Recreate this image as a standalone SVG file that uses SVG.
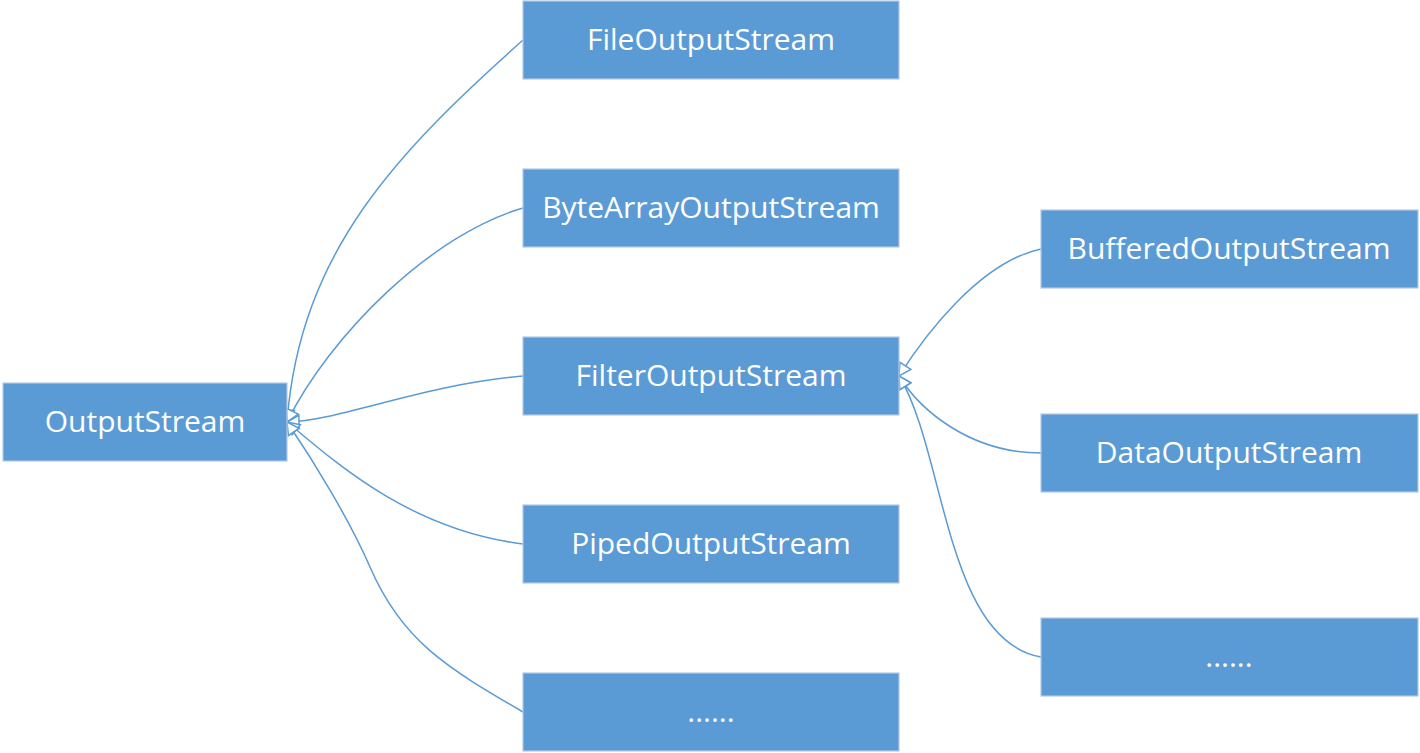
<svg xmlns="http://www.w3.org/2000/svg" width="1420" height="753" viewBox="0 0 1420 753">
<style>
.box{fill:#5B9BD5;stroke:#B4C9E6;stroke-width:1.2}
.lbl{fill:#FFFFFF;font-family:"Open Sans","Noto Sans","Liberation Sans",sans-serif;font-size:30px;text-anchor:middle}
.conn{fill:none;stroke:#5B9BD5;stroke-width:1.5;marker-start:url(#tri)}
</style>
<defs>
<marker id="tri" markerUnits="userSpaceOnUse" markerWidth="16" markerHeight="16" viewBox="-1 -8 15 16" refX="12" refY="0" orient="auto-start-reverse">
<path d="M0,-6.5 L12,0 L0,6.5 Z" fill="#FFFFFF" stroke="#5B9BD5" stroke-width="1.5" stroke-linejoin="miter"/>
</marker>
</defs>
<rect width="1420" height="753" fill="#FFFFFF"/>
<g id="connectors">
<path class="conn" d="M287,422 C300,250 400,150 523,40"/>
<path class="conn" d="M287,422 C330,335 432,234 523,208"/>
<path class="conn" d="M287,422 C340,421 420,385 523,376"/>
<path class="conn" d="M287,422 C335,462 410,530 523,544"/>
<path class="conn" d="M287,422 C315,463 350,521 370,567 C402,641 446,667 523,712"/>
<path class="conn" d="M899,376 C925,335 980,262 1041,249"/>
<path class="conn" d="M899,376 C920,410 970,453 1041,453"/>
<path class="conn" d="M899,376 C945,450 945,640 1041,657"/>
</g>
<g id="OutputStream"><rect class="box" x="3" y="383" width="284" height="78"/><text class="lbl" x="145" y="432">OutputStream</text></g>
<g id="FileOutputStream"><rect class="box" x="523" y="1" width="376" height="78"/><text class="lbl" x="711" y="50">FileOutputStream</text></g>
<g id="ByteArrayOutputStream"><rect class="box" x="523" y="169" width="376" height="78"/><text class="lbl" x="711" y="218">ByteArrayOutputStream</text></g>
<g id="FilterOutputStream"><rect class="box" x="523" y="337" width="376" height="78"/><text class="lbl" x="711" y="386">FilterOutputStream</text></g>
<g id="PipedOutputStream"><rect class="box" x="523" y="505" width="376" height="78"/><text class="lbl" x="711" y="554">PipedOutputStream</text></g>
<g id="MoreLeft"><rect class="box" x="523" y="673" width="376" height="78"/><text class="lbl" x="711" y="722">......</text></g>
<g id="BufferedOutputStream"><rect class="box" x="1041" y="210" width="377" height="78"/><text class="lbl" x="1229" y="259">BufferedOutputStream</text></g>
<g id="DataOutputStream"><rect class="box" x="1041" y="414" width="377" height="78"/><text class="lbl" x="1229" y="463">DataOutputStream</text></g>
<g id="MoreRight"><rect class="box" x="1041" y="618" width="377" height="78"/><text class="lbl" x="1229" y="667">......</text></g>
</svg>
